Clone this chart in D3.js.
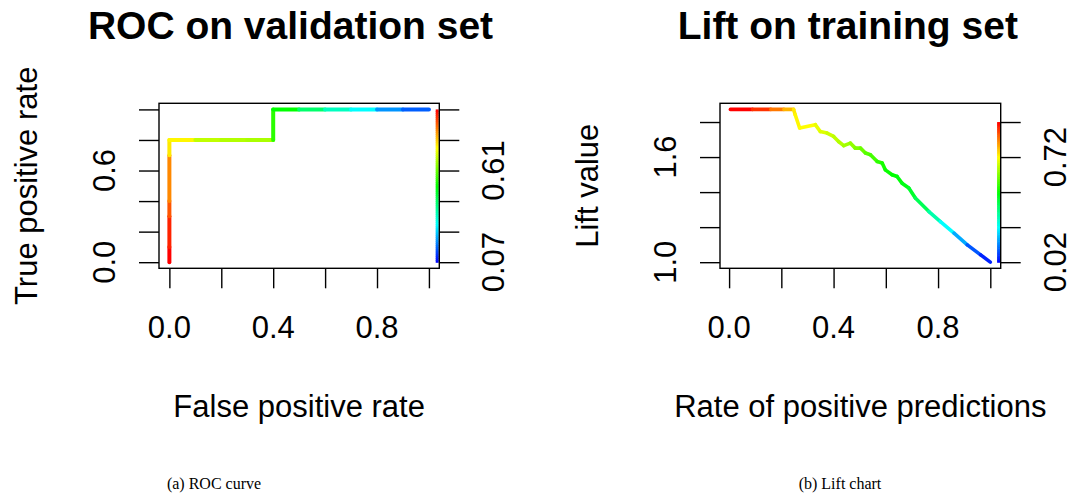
<!DOCTYPE html>
<html>
<head>
<meta charset="utf-8">
<script src="https://cdn.jsdelivr.net/npm/d3@7"></script>
<style>
  body { margin: 0; background: #fff; }
  text { font-family: "Liberation Sans", Arial, Helvetica, sans-serif; fill: #000; }
  .caption { font-family: "Liberation Serif", "Times New Roman", serif; }
</style>
</head>
<body>
<div id="chart"></div>
<script>
//
// ROC curve on the validation set (fpr, tpr, cutoff of each point)
//
const rocFpr    = [0,    0,    0,     0,    0,     0,     0.1,   0.2,   0.3,  0.4,   0.4,  0.5,   0.6,   0.7,   0.8,   0.9,   1.0]
const rocTpr    = [0,    0.1,  0.3,   0.4,  0.7,   0.8,   0.8,   0.8,   0.8,  0.8,   1.0,  1.0,   1.0,   1.0,   1.0,   1.0,   1.0]
const rocCutoff = [0.97, 0.94, 0.895, 0.85, 0.764, 0.752, 0.689, 0.678, 0.67, 0.557, 0.52, 0.426, 0.351, 0.295, 0.201, 0.153, 0.07]
const rocXTicks = [0, 0.2, 0.4, 0.6, 0.8, 1.0]
const rocXLabels = [0, 0.4, 0.8]
const rocYTicks = [0, 0.2, 0.4, 0.6, 0.8, 1.0]
const rocYLabels = [0, 0.6]
const rocKeyRange = [0.07, 0.97]
const rocKeyLabels = [0, 0.6]

//
// Lift chart on the training set (rate of positive predictions, lift, cutoff)
//
const liftRpp    = [0.005, 0.09, 0.16, 0.21, 0.247, 0.253, 0.270, 0.330, 0.349, 0.375, 0.400, 0.419, 0.439, 0.464, 0.483, 0.503,
                    0.522, 0.541, 0.567, 0.586, 0.598, 0.624, 0.643, 0.662, 0.688, 0.713, 0.765, 0.809, 0.861, 0.912, 0.963, 1.0]
const liftValue  = [1.872, 1.872, 1.872, 1.872, 1.872, 1.842, 1.766, 1.785, 1.746, 1.737, 1.718, 1.689, 1.665, 1.680, 1.651, 1.651,
                    1.623, 1.613, 1.575, 1.566, 1.527, 1.499, 1.489, 1.451, 1.423, 1.366, 1.289, 1.232, 1.166, 1.099, 1.042, 1.0]
const liftCutoff = [0.95, 0.904, 0.841, 0.787, 0.737, 0.725, 0.718, 0.698, 0.687, 0.671, 0.659, 0.648, 0.632, 0.617, 0.601, 0.582,
                    0.563, 0.547, 0.524, 0.504, 0.493, 0.485, 0.477, 0.466, 0.446, 0.408, 0.33, 0.253, 0.175, 0.098, 0.051, 0.02]
const liftXTicks = [0, 0.2, 0.4, 0.6, 0.8, 1.0]
const liftXLabels = [0, 0.4, 0.8]
const liftYTicks = [1.0, 1.2, 1.4, 1.6, 1.8]
const liftYLabels = [1.0, 1.6]
const liftKeyRange = [0.02, 0.95]
const liftKeyLabels = [1.0, 1.6]

const W = 1073, H = 503
const svg = d3.select("#chart").append("svg")
  .attr("width", W)
  .attr("height", H)

// pad an extent by 4% each side, like R does
function padded(vals) {
  const e = d3.extent(vals)
  const p = (e[1] - e[0]) * 0.04
  return [e[0] - p, e[1] + p]
}

function drawPanel(p) {
  const g = svg.append("g")
  const x = d3.scaleLinear().domain(padded(p.xs)).range([p.left, p.right])
  const y = d3.scaleLinear().domain(padded(p.ys)).range([p.bottom, p.top])

  // rainbow palette, red for high cutoffs and blue for low ones
  const t = d3.scaleLinear().domain(p.keyRange).range([240, 0]).clamp(true)
  const colour = c => d3.hsl(t(c), 1, 0.5).toString()

  // curve, one segment per pair of points
  const segs = d3.range(p.xs.length - 1)
  g.selectAll(".seg")
    .data(segs)
    .enter()
    .append("line")
      .attr("x1", i => x(p.xs[i]))
      .attr("y1", i => y(p.ys[i]))
      .attr("x2", i => x(p.xs[i + 1]))
      .attr("y2", i => y(p.ys[i + 1]))
      .attr("stroke", i => colour(p.cut[i]))
      .attr("stroke-width", p.lw)
      .attr("stroke-linecap", "round")

  // colour key along the right edge
  const y0 = p.yTicks[0], y1 = p.yTicks[p.yTicks.length - 1]
  const key = d3.scaleLinear().domain([y0, y1]).range(p.keyRange)
  const steps = d3.range(80).map(k => y0 + (y1 - y0) * k / 80)
  const dy = (y1 - y0) / 80
  g.selectAll(".key")
    .data(steps)
    .enter()
    .append("rect")
      .attr("x", p.right - 3.6)
      .attr("width", 3)
      .attr("y", v => y(v + dy))
      .attr("height", v => y(v) - y(v + dy) + 0.6)
      .attr("fill", v => colour(key(v + dy / 2)))

  // box
  g.append("rect")
    .attr("x", p.left).attr("y", p.top)
    .attr("width", p.right - p.left).attr("height", p.bottom - p.top)
    .attr("fill", "none").attr("stroke", "#000").attr("stroke-width", 1.4)

  // axes
  const tick = 20
  const ax = g.append("g").attr("transform", "translate(0," + p.bottom + ")")
    .call(d3.axisBottom(x).tickValues(p.xTicks).tickSize(tick).tickFormat(""))
  const ay = g.append("g").attr("transform", "translate(" + p.left + ",0)")
    .call(d3.axisLeft(y).tickValues(p.yTicks).tickSize(tick).tickFormat(""))
  const ak = g.append("g").attr("transform", "translate(" + p.right + ",0)")
    .call(d3.axisRight(y).tickValues(p.yTicks).tickSize(tick).tickFormat(""))
  ;[ax, ay, ak].forEach(a => {
    a.select(".domain").remove()
    a.selectAll("line").attr("stroke", "#000").attr("stroke-width", 1.4)
  })

  // tick labels
  g.selectAll(".xl")
    .data(p.xLabels)
    .enter()
    .append("text")
      .attr("x", d => x(d)).attr("y", p.bottom + 70)
      .attr("text-anchor", "middle")
      .style("font-size", "31px")
      .text(d => d.toFixed(1))
  g.selectAll(".yl")
    .data(p.yLabels)
    .enter()
    .append("text")
      .attr("transform", d => "translate(" + (p.left - 44) + "," + y(d) + ")rotate(-90)")
      .attr("text-anchor", "middle")
      .style("font-size", "31px")
      .text(d => d.toFixed(1))
  g.selectAll(".kl")
    .data(p.keyLabels)
    .enter()
    .append("text")
      .attr("transform", d => "translate(" + (p.right + 65) + "," + y(d) + ")rotate(-90)")
      .attr("text-anchor", "middle")
      .style("font-size", "31px")
      .text(d => key(d).toFixed(2))

  // titles
  g.append("text")
    .attr("x", p.titleX).attr("y", 39)
    .attr("text-anchor", "middle")
    .style("font-size", "39px").style("font-weight", "bold")
    .text(p.title)
  g.append("text")
    .attr("x", (p.left + p.right) / 2).attr("y", p.bottom + 149)
    .attr("text-anchor", "middle")
    .style("font-size", "31px")
    .text(p.xLab)
  g.append("text")
    .attr("transform", "translate(" + (p.left - 122) + "," + (p.top + p.bottom) / 2 + ")rotate(-90)")
    .attr("text-anchor", "middle")
    .style("font-size", "31px")
    .text(p.yLab)
  g.append("text")
    .attr("class", "caption")
    .attr("x", p.capX).attr("y", 489)
    .attr("text-anchor", "middle")
    .style("font-size", "16px")
    .text(p.caption)
}

drawPanel({
  xs: rocFpr, ys: rocTpr, cut: rocCutoff, lw: 4,
  xTicks: rocXTicks, xLabels: rocXLabels, yTicks: rocYTicks, yLabels: rocYLabels,
  keyRange: rocKeyRange, keyLabels: rocKeyLabels,
  left: 159, right: 439.3, top: 103.3, bottom: 268.3,
  title: "ROC on validation set", titleX: 290.5,
  xLab: "False positive rate", yLab: "True positive rate",
  caption: "(a)  ROC curve", capX: 214
})

drawPanel({
  xs: liftRpp, ys: liftValue, cut: liftCutoff, lw: 3.6,
  xTicks: liftXTicks, xLabels: liftXLabels, yTicks: liftYTicks, yLabels: liftYLabels,
  keyRange: liftKeyRange, keyLabels: liftKeyLabels,
  left: 720, right: 1000.7, top: 103.3, bottom: 268.3,
  title: "Lift on training set", titleX: 847.8,
  xLab: "Rate of positive predictions", yLab: "Lift value",
  caption: "(b)  Lift chart", capX: 840
})
</script>
</body>
</html>
